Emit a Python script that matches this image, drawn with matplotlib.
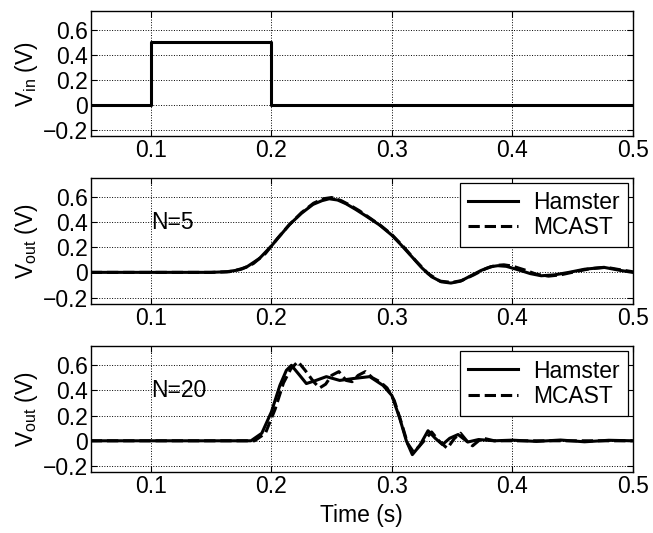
import matplotlib
matplotlib.use('Agg')
import matplotlib.pyplot as plt

# input pulse
t_in = [0.05, 0.1, 0.1, 0.2, 0.2, 0.5]
v_in = [0, 0, 0.5, 0.5, 0, 0]

# N=5
t5_ham = [0.05, 0.10, 0.15, 0.163, 0.17, 0.179, 0.19, 0.2, 0.207, 0.215, 0.225, 0.2345, 0.242,
          0.248, 0.255, 0.262, 0.27, 0.279, 0.29, 0.3, 0.308, 0.317, 0.325, 0.333, 0.341, 0.349,
          0.357, 0.365, 0.374, 0.382, 0.388, 0.395, 0.405, 0.415, 0.424, 0.435, 0.447, 0.46,
          0.476, 0.49, 0.5]
v5_ham = [0, 0, 0.0, 0.005, 0.015, 0.04, 0.11, 0.21, 0.29, 0.38, 0.47, 0.54, 0.57,
          0.585, 0.575, 0.545, 0.5, 0.445, 0.375, 0.295, 0.215, 0.12, 0.035, -0.035, -0.075, -0.085,
          -0.07, -0.03, 0.015, 0.045, 0.053, 0.048, 0.02, -0.01, -0.027, -0.02, 0.0, 0.025,
          0.04, 0.015, 0.0]
t5_mc = [0.05, 0.10, 0.15, 0.165, 0.175, 0.185, 0.195, 0.205, 0.215, 0.225, 0.235, 0.243,
         0.25, 0.258, 0.265, 0.273, 0.282, 0.291, 0.3, 0.31, 0.32, 0.33, 0.34, 0.35, 0.358,
         0.368, 0.378, 0.386, 0.393, 0.4, 0.41, 0.42, 0.43, 0.44, 0.452, 0.465, 0.478, 0.49, 0.5]
v5_mc = [0, 0, 0.0, 0.005, 0.025, 0.07, 0.15, 0.27, 0.38, 0.475, 0.55, 0.585,
         0.595, 0.57, 0.535, 0.49, 0.43, 0.37, 0.3, 0.2, 0.09, -0.01, -0.07, -0.08, -0.065,
         -0.02, 0.03, 0.055, 0.06, 0.05, 0.02, -0.015, -0.03, -0.02, 0.005, 0.03, 0.04, 0.02, 0.005]

# N=20
t20_ham = [0.05, 0.15, 0.183, 0.192, 0.2, 0.207, 0.2124, 0.2166, 0.2235, 0.229, 0.237, 0.2456,
           0.2567, 0.268, 0.2816, 0.2927, 0.3, 0.3065, 0.312, 0.317, 0.323, 0.33, 0.336, 0.342,
           0.348, 0.355, 0.363, 0.372, 0.385, 0.4, 0.42, 0.44, 0.46, 0.48, 0.5]
v20_ham = [0, 0, 0.0, 0.06, 0.23, 0.44, 0.56, 0.60, 0.52, 0.455, 0.48, 0.51,
           0.48, 0.495, 0.51, 0.44, 0.36, 0.18, 0.0, -0.11, -0.04, 0.08, 0.02, -0.03,
           0.02, 0.05, -0.01, 0.01, 0.0, 0.005, -0.005, 0.006, -0.008, 0.004, 0.0]
t20_mc = [0.05, 0.15, 0.186, 0.195, 0.203, 0.21, 0.216, 0.222, 0.228, 0.235, 0.24, 0.245,
          0.25, 0.256, 0.262, 0.267, 0.272, 0.278, 0.284, 0.29, 0.296, 0.302, 0.308, 0.313,
          0.318, 0.324, 0.333, 0.339, 0.346, 0.352, 0.357, 0.363, 0.367, 0.372, 0.376, 0.385, 0.5]
v20_mc = [0, 0, 0.0, 0.06, 0.25, 0.46, 0.57, 0.63, 0.56, 0.47, 0.42, 0.45,
          0.52, 0.55, 0.48, 0.47, 0.52, 0.55, 0.5, 0.47, 0.42, 0.32, 0.14, -0.02,
          -0.09, -0.03, 0.07, 0.0, -0.06, 0.02, 0.06, -0.01, -0.04, 0.0, 0.02, 0.0, 0.0]

xticks = [0.1, 0.2, 0.3, 0.4, 0.5]
yticks = [-0.2, 0, 0.2, 0.4, 0.6]
ytick_labels = ['\u22120.2', '0', '0.2', '0.4', '0.6']

plt.rcParams['font.family'] = ['Liberation Sans', 'DejaVu Sans']
plt.rcParams['font.size'] = 16.5
plt.rcParams['mathtext.fontset'] = 'custom'
plt.rcParams['mathtext.rm'] = 'Liberation Sans'

fig = plt.figure(figsize=(6.53, 5.33), dpi=100)
left, width, height = 0.139, 0.830, 0.236
bottoms = [0.744, 0.430, 0.114]
axes = [fig.add_axes([left, b, width, height]) for b in bottoms]

lw = 2.2
axes[0].plot(t_in, v_in, color='black', lw=lw)
axes[1].plot(t5_ham, v5_ham, color='black', lw=lw, label='Hamster')
axes[1].plot(t5_mc, v5_mc, color='black', lw=lw, ls='--', label='MCAST')
axes[2].plot(t20_ham, v20_ham, color='black', lw=lw, label='Hamster')
axes[2].plot(t20_mc, v20_mc, color='black', lw=lw, ls='--', label='MCAST')

axes[0].set_ylabel('V$_{\\mathregular{in}}$ (V)', labelpad=2)
axes[1].set_ylabel('V$_{\\mathregular{out}}$ (V)', labelpad=2)
axes[2].set_ylabel('V$_{\\mathregular{out}}$ (V)', labelpad=2)
axes[2].set_xlabel('Time (s)', labelpad=4)

axes[1].text(0.1, 0.4, 'N=5', ha='left', va='center')
axes[2].text(0.1, 0.4, 'N=20', ha='left', va='center')

for ax in axes:
    ax.set_xlim(0.05, 0.5)
    ax.set_ylim(-0.25, 0.75)
    ax.set_xticks(xticks)
    ax.set_xticklabels([str(x) for x in xticks])
    ax.set_yticks(yticks)
    ax.set_yticklabels(ytick_labels)
    ax.grid(True, color='black', ls=':', lw=0.7)
    ax.tick_params(direction='in', top=True, right=True, length=4, width=0.8, pad=2)
    for s in ax.spines.values():
        s.set_linewidth(1.0)

for ax in axes[1:]:
    leg = ax.legend(loc='upper right', fancybox=False, edgecolor='black', framealpha=1,
                    borderaxespad=0.22, handlelength=2.2, labelspacing=0.1, borderpad=0.35,
                    handletextpad=0.65)
    leg.get_frame().set_linewidth(0.9)

fig.savefig('out.png', dpi=100)
